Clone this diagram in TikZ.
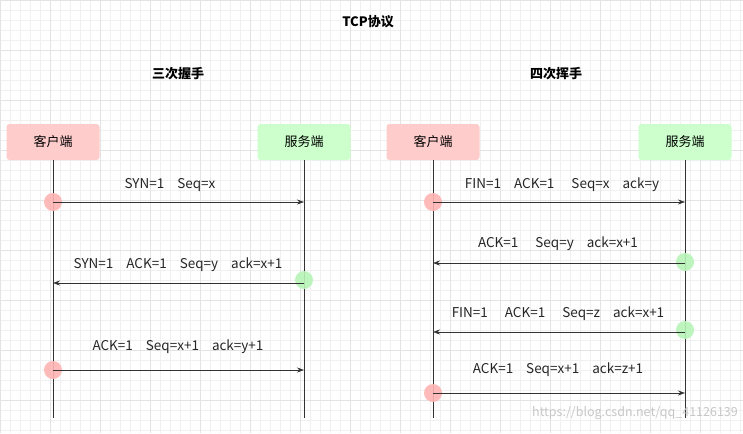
\documentclass[tikz,border=0pt]{standalone}
\usepackage{fontspec}
\setmainfont{Noto Sans CJK SC}
\usetikzlibrary{arrows.meta}
\definecolor{pinkf}{HTML}{FFCCCC}
\definecolor{greenf}{HTML}{CCFFCC}
\definecolor{rdotc}{HTML}{FFB3B3}
\definecolor{gdotc}{HTML}{B8F5B8}
\newcommand{\gp}{\hspace{13pt}}
\newcommand{\gq}{\hspace{17pt}}
\begin{document}
\begin{tikzpicture}[x=1pt,y=-1pt,
  box/.style={rounded corners=3pt,minimum width=93pt,minimum height=36pt,font=\fontsize{13}{14}\selectfont,inner sep=0pt},
  cbox/.style={box,fill=pinkf},
  sbox/.style={box,fill=greenf},
  life/.style={draw=black!80,line width=0.6pt},
  msg/.style={draw=black!80,line width=0.6pt,-{Stealth[length=7pt,width=5pt]}},
  lbl/.style={font=\fontsize{13.5}{15}\selectfont,text=black!85,inner sep=0pt},
  hd/.style={font=\bfseries\fontsize{13}{14}\selectfont,inner sep=0pt},
  rdot/.style={circle,fill=rdotc,minimum size=18pt,inner sep=0pt,opacity=0.9},
  gdot/.style={circle,fill=gdotc,minimum size=18pt,inner sep=0pt,opacity=0.9}]
\useasboundingbox (0,0) rectangle (743,433);
\fill[white] (0,0) rectangle (743,433);
\draw[black!6,line width=0.4pt] (0,0) grid[step=10pt] (743,433);
\foreach \i in {0,50,...,700} \draw[black!11,line width=0.4pt] (\i,0) -- (\i,433);
\foreach \j in {0,50,...,400} \draw[black!11,line width=0.4pt] (0,\j) -- (743,\j);

\node[hd] (title) at (368,22) {TCP协议};
\node[hd] (h1) at (178,74) {三次握手};
\node[hd] (h2) at (556,74) {四次挥手};

\node[cbox] (c1) at (53,142) {客户端};
\node[sbox] (s1) at (304,142) {服务端};
\node[cbox] (c2) at (433,142) {客户端};
\node[sbox] (s2) at (685,142) {服务端};

\coordinate (c1e) at (53,418); \coordinate (s1e) at (304,418);
\coordinate (c2e) at (433,418); \coordinate (s2e) at (685,418);
\draw[life] (c1) -- (c1e); \draw[life] (s1) -- (s1e);
\draw[life] (c2) -- (c2e); \draw[life] (s2) -- (s2e);

% left
\node[rdot] (d1) at (53,202) {};
\coordinate (a1) at (53,202); \coordinate (b1) at (304,202);
\draw[msg] (a1) -- (b1);
\node[lbl] (l1) at (170,185) {SYN=1\gp Seq=x};
\node[gdot] (d2) at (304,280) {};
\coordinate (a2) at (304,283); \coordinate (b2) at (53,283);
\draw[msg] (a2) -- (b2);
\node[lbl] (l2) at (178,265) {SYN=1\gp ACK=1\gp Seq=y\gp ack=x+1};
\node[rdot] (d3) at (53,370) {};
\coordinate (a3) at (53,370); \coordinate (b3) at (304,370);
\draw[msg] (a3) -- (b3);
\node[lbl] (l3) at (178,347) {ACK=1\gp Seq=x+1\gp ack=y+1};

% right
\node[rdot] (e1) at (433,202) {};
\coordinate (p1) at (433,202); \coordinate (q1) at (685,202);
\draw[msg] (p1) -- (q1);
\node[lbl] (m1) at (562,185) {FIN=1\gp ACK=1\gq Seq=x\gp ack=y};
\node[gdot] (e2) at (685,262) {};
\coordinate (p2) at (685,263); \coordinate (q2) at (433,263);
\draw[msg] (p2) -- (q2);
\node[lbl] (m2) at (558,244) {ACK=1\gq Seq=y\gp ack=x+1};
\node[gdot] (e3) at (685,330) {};
\coordinate (p3) at (685,332); \coordinate (q3) at (433,332);
\draw[msg] (p3) -- (q3);
\node[lbl] (m3) at (558,314) {FIN=1\gq ACK=1\gq Seq=z\gp ack=x+1};
\node[rdot] (e4) at (433,393) {};
\coordinate (p4) at (433,393); \coordinate (q4) at (685,393);
\draw[msg] (p4) -- (q4);
\node[lbl] (m4) at (558,370) {ACK=1\gp Seq=x+1\gp ack=z+1};

\node[font=\fontsize{12.5}{14}\selectfont,text=black!22,anchor=east,inner sep=0pt] (wm) at (738,413) {https://blog.csdn.net/qq\_41126139};
\end{tikzpicture}
\end{document}
